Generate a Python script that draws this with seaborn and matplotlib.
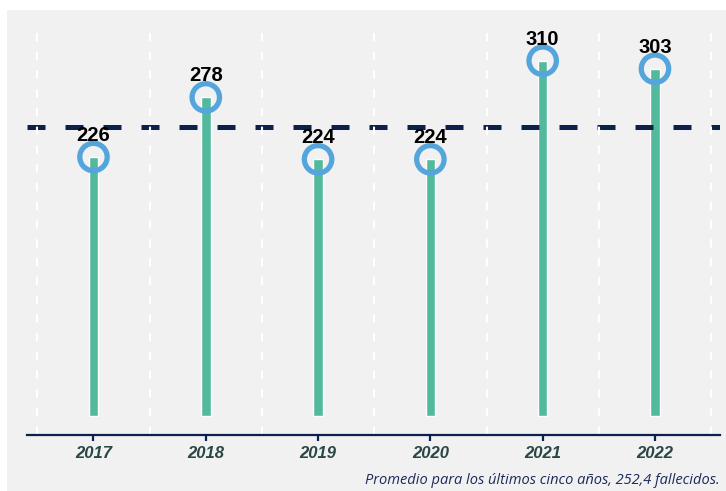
import numpy as np
import pandas as pd
import matplotlib
matplotlib.use("Agg")
import matplotlib.pyplot as plt
import matplotlib.patches as mpatches
import seaborn as sns

# Datos: fallecidos por año
years = ["2017", "2018", "2019", "2020", "2021", "2022"]
deaths = [226, 278, 224, 224, 310, 303]
mean_value = 252.4
caption = "Promedio para los últimos cinco años, 252,4 fallecidos."

# Colores
BG = "#f1f1f1"
BAR = "#52b99c"
RING = "#55a5dd"
NAVY = "#0d1f4d"
TICK_TXT = "#2a4744"

df = pd.DataFrame({"year": years, "deaths": deaths})

sns.set_style("white")
plt.rcParams["font.family"] = ["Liberation Sans", "DejaVu Sans"]

fig = plt.figure(figsize=(7.26, 4.91), dpi=100, facecolor="white")
# panel gris de fondo
fig.patches.append(mpatches.Rectangle((7 / 726, 0), 1, 1 - 10 / 491,
                                      transform=fig.transFigure,
                                      facecolor=BG, edgecolor="none", zorder=-10))
ax = fig.add_axes([27 / 726, 1 - 434.5 / 491, 693 / 726, 412.5 / 491])
ax.set_facecolor(BG)

# ── Barras ────────────────────────────────────────────────────────────────
sns.barplot(data=df, x="year", y="deaths", color=BAR, width=0.085,
            saturation=1, ax=ax, zorder=2)

# ── Promedio ──────────────────────────────────────────────────────────────
ax.axhline(mean_value, color=NAVY, lw=3.6, linestyle=(0, (3.6, 4.0)), zorder=2.2)

# ── Separadores verticales (entre categorías) ────────────────────────────
for xv in np.arange(-0.5, len(years), 1):
    ax.axvline(xv, color="white", lw=1.5, linestyle=(0, (4, 5)), zorder=2.5)

# ── Círculos ──────────────────────────────────────────────────────────────
sns.scatterplot(data=df, x="year", y="deaths", marker="o", s=390,
                facecolor="none", edgecolor=RING, linewidth=3.8,
                ax=ax, zorder=4)

for i, v in enumerate(deaths):
    ax.annotate(str(v), (i, v), xytext=(0, 11.5), textcoords="offset points",
                ha="center", va="baseline", fontsize=14.5, fontweight="bold",
                color="black", zorder=5)

# ── Ejes ──────────────────────────────────────────────────────────────────
ax.set_xlim(-0.592, 5.579)
ax.set_ylim(-16.1, 343.8)
ax.set_yticks([])
ax.set_xlabel("")
ax.set_ylabel("")
ax.grid(False)

for side in ["top", "right", "left"]:
    ax.spines[side].set_visible(False)
ax.spines["bottom"].set_color(NAVY)
ax.spines["bottom"].set_linewidth(1.6)
ax.spines["bottom"].set_zorder(3)

ax.tick_params(axis="x", which="major", bottom=True, direction="out",
               length=4.5, width=1.6, color=NAVY,
               pad=4, labelsize=12, labelcolor=TICK_TXT)
for lbl in ax.get_xticklabels():
    lbl.set_fontweight("bold")
    lbl.set_fontstyle("italic")

fig.text(720 / 726, 1 - 480 / 491, caption, ha="right", va="center",
         fontsize=10.5, style="italic", color="#1c2b5a",
         family=["Open Sans", "DejaVu Sans"])

fig.savefig("out.png", dpi=100, facecolor="white")
